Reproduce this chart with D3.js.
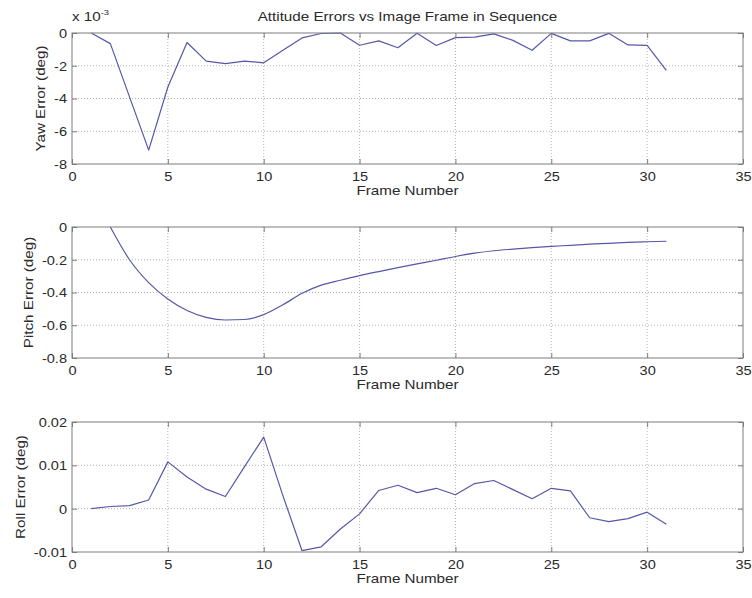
<!DOCTYPE html>
<html>
<head>
<meta charset="utf-8">
<script src="https://cdn.jsdelivr.net/npm/d3@7"></script>
<style>
  html, body { margin: 0; padding: 0; background: #fff; }
  svg { display: block; }
  text { font-family: "Liberation Sans", Arial, Helvetica, sans-serif; fill: #2a2a2a; }
</style>
</head>
<body>
<svg id="chart" width="752" height="598"></svg>
<script>
// Frame numbers in the sequence
const frames = d3.range(1, 32);

// Yaw error, in units of 1e-3 deg (axis carries the x 10^-3 multiplier)
const yawErrMilli = [
  0, -0.65, -3.9, -7.15, -3.3, -0.58, -1.72, -1.87, -1.72, -1.82,
  -1.05, -0.3, -0.03, 0, -0.75, -0.48, -0.9, -0.02, -0.76, -0.28,
  -0.25, -0.05, -0.45, -1.05, -0.02, -0.48, -0.48, -0.02, -0.73, -0.75,
  -2.28
];

// Pitch error (deg); the series begins at frame 2
const pitchFrames = d3.range(2, 32);
const pitchErr = [
  0, -0.2, -0.34, -0.44, -0.51, -0.552, -0.568, -0.565, -0.535,
  -0.475, -0.405, -0.355, -0.325, -0.297, -0.272, -0.248, -0.225, -0.203, -0.18,
  -0.16, -0.145, -0.135, -0.126, -0.118, -0.112, -0.105, -0.1, -0.094, -0.09,
  -0.087
];

// Roll error (deg)
const rollErr = [
  0, 0.0005, 0.0007, 0.002, 0.0108, 0.0073, 0.0045, 0.0028, 0.0097, 0.0165,
  0.003, -0.0097, -0.0088, -0.0047, -0.0012, 0.0042, 0.0054, 0.0037, 0.0047, 0.0032,
  0.0058, 0.0065, 0.0044, 0.0023, 0.0047, 0.0041, -0.0021, -0.003, -0.0023, -0.0008,
  -0.0036
];

// Axis ticks and labels
const xTicks = [0, 5, 10, 15, 20, 25, 30, 35];
const xTickLabels = ["0", "5", "10", "15", "20", "25", "30", "35"];
const yawTicks = [0, -2, -4, -6, -8];
const yawTickLabels = ["0", "-2", "-4", "-6", "-8"];
const pitchTicks = [0, -0.2, -0.4, -0.6, -0.8];
const pitchTickLabels = ["0", "-0.2", "-0.4", "-0.6", "-0.8"];
const rollTicks = [0.02, 0.01, 0, -0.01];
const rollTickLabels = ["0.02", "0.01", "0", "-0.01"];

const chartTitle = "Attitude Errors vs Image Frame in Sequence";
const xLabel = "Frame Number";
const yawLabel = "Yaw Error (deg)";
const pitchLabel = "Pitch Error (deg)";
const rollLabel = "Roll Error (deg)";

// ---- layout ----
const svg = d3.select("#chart");
const plotLeft = 72, plotRight = 743;
const FONT = 13;
const SX_TICK = 1.12;   // horizontal glyph stretch for tick labels
const SX_LABEL = 1.17;  // horizontal glyph stretch for titles/labels
const lineColor = "#5558a8";
const boxColor = "#7c7c7c";
const gridColor = "#b4b4b4";

const x = d3.scaleLinear().domain([0, 35]).range([plotLeft, plotRight]);

const panels = [
  { top: 33, bottom: 164, domain: [-8, 0], ticks: yawTicks, labels: yawTickLabels,
    xs: frames, ys: yawErrMilli, ylabel: yawLabel, curve: d3.curveLinear },
  { top: 227, bottom: 358, domain: [-0.8, 0], ticks: pitchTicks, labels: pitchTickLabels,
    xs: pitchFrames, ys: pitchErr, ylabel: pitchLabel, curve: d3.curveMonotoneX },
  { top: 422, bottom: 552, domain: [-0.01, 0.02], ticks: rollTicks, labels: rollTickLabels,
    xs: frames, ys: rollErr, ylabel: rollLabel, curve: d3.curveLinear }
];

function stretch(sel, sx) {
  sel.each(function () {
    const t = d3.select(this);
    const tx = +t.attr("x") || 0, ty = +t.attr("y") || 0;
    t.attr("x", 0).attr("y", 0)
     .attr("transform", `translate(${tx},${ty}) scale(${sx},1)`);
  });
}

function styleAxis(g) {
  g.select(".domain").remove();
  g.selectAll(".tick line").attr("stroke", boxColor).attr("stroke-width", 1);
  g.selectAll(".tick text").attr("fill", "#2a2a2a")
    .style("font-size", FONT + "px")
    .style("font-family", '"Liberation Sans", Arial, sans-serif');
}

panels.forEach(p => {
  const y = d3.scaleLinear().domain(p.domain).range([p.bottom, p.top]);
  const g = svg.append("g");

  // dotted grid
  g.append("g").selectAll("line.v")
    .data(xTicks.filter(d => d > 0 && d < 35)).join("line")
    .attr("x1", d => x(d)).attr("x2", d => x(d))
    .attr("y1", p.top).attr("y2", p.bottom)
    .attr("stroke", gridColor).attr("stroke-width", 1)
    .attr("stroke-dasharray", "1,2");
  g.append("g").selectAll("line.h")
    .data(p.ticks.filter(d => d > p.domain[0] && d < p.domain[1])).join("line")
    .attr("x1", plotLeft).attr("x2", plotRight)
    .attr("y1", d => y(d)).attr("y2", d => y(d))
    .attr("stroke", gridColor).attr("stroke-width", 1)
    .attr("stroke-dasharray", "1,2");

  // data line
  const pts = p.xs.map((f, i) => [f, p.ys[i]]);
  g.append("path")
    .datum(pts)
    .attr("fill", "none")
    .attr("stroke", lineColor)
    .attr("stroke-width", 1.2)
    .attr("stroke-linejoin", "round")
    .attr("d", d3.line().curve(p.curve).x(d => x(d[0])).y(d => y(d[1])));

  // box
  g.append("rect")
    .attr("x", plotLeft).attr("y", p.top)
    .attr("width", plotRight - plotLeft).attr("height", p.bottom - p.top)
    .attr("fill", "none").attr("stroke", boxColor).attr("stroke-width", 1);

  // axes with inward ticks on all four sides
  const xb = g.append("g").attr("transform", `translate(0,${p.bottom})`)
    .call(d3.axisBottom(x).tickValues(xTicks)
      .tickFormat((d, i) => xTickLabels[i]).tickSizeInner(-5).tickSizeOuter(0).tickPadding(8));
  styleAxis(xb);
  stretch(xb.selectAll(".tick text"), SX_TICK);

  const xt = g.append("g").attr("transform", `translate(0,${p.top})`)
    .call(d3.axisTop(x).tickValues(xTicks).tickFormat("").tickSizeInner(-5).tickSizeOuter(0));
  styleAxis(xt);

  const yl = g.append("g").attr("transform", `translate(${plotLeft},0)`)
    .call(d3.axisLeft(y).tickValues(p.ticks)
      .tickFormat((d, i) => p.labels[i]).tickSizeInner(-5).tickSizeOuter(0).tickPadding(5));
  styleAxis(yl);
  yl.selectAll(".tick text").attr("dy", "0.34em");
  stretch(yl.selectAll(".tick text"), SX_TICK);

  const yr = g.append("g").attr("transform", `translate(${plotRight},0)`)
    .call(d3.axisRight(y).tickValues(p.ticks).tickFormat("").tickSizeInner(-5).tickSizeOuter(0));
  styleAxis(yr);

  // x label
  g.append("text")
    .attr("text-anchor", "middle")
    .style("font-size", FONT + "px")
    .attr("transform", `translate(${(plotLeft + plotRight) / 2},${p.bottom + 31}) scale(${SX_LABEL},1)`)
    .text(xLabel);

  // y label, placed left of the widest tick label
  let minLeft = plotLeft;
  yl.selectAll(".tick text").each(function () {
    const w = this.getComputedTextLength() * SX_TICK;
    minLeft = Math.min(minLeft, plotLeft - 5 - w);
  });
  g.append("text")
    .attr("text-anchor", "middle")
    .style("font-size", FONT + "px")
    .attr("transform", `translate(${minLeft - 9},${(p.top + p.bottom) / 2}) rotate(-90) scale(${SX_LABEL},1)`)
    .text(p.ylabel);
});

// title
svg.append("text")
  .attr("text-anchor", "middle")
  .style("font-size", FONT + "px")
  .attr("transform", `translate(${(plotLeft + plotRight) / 2},21) scale(${SX_LABEL},1)`)
  .text(chartTitle);

// exponent multiplier for the yaw axis
const mult = svg.append("text")
  .style("font-size", FONT + "px")
  .attr("transform", `translate(${plotLeft},21) scale(${SX_LABEL},1)`);
mult.append("tspan").text("x 10");
mult.append("tspan").attr("dy", -6).style("font-size", "8px").text("-3");
</script>
</body>
</html>
